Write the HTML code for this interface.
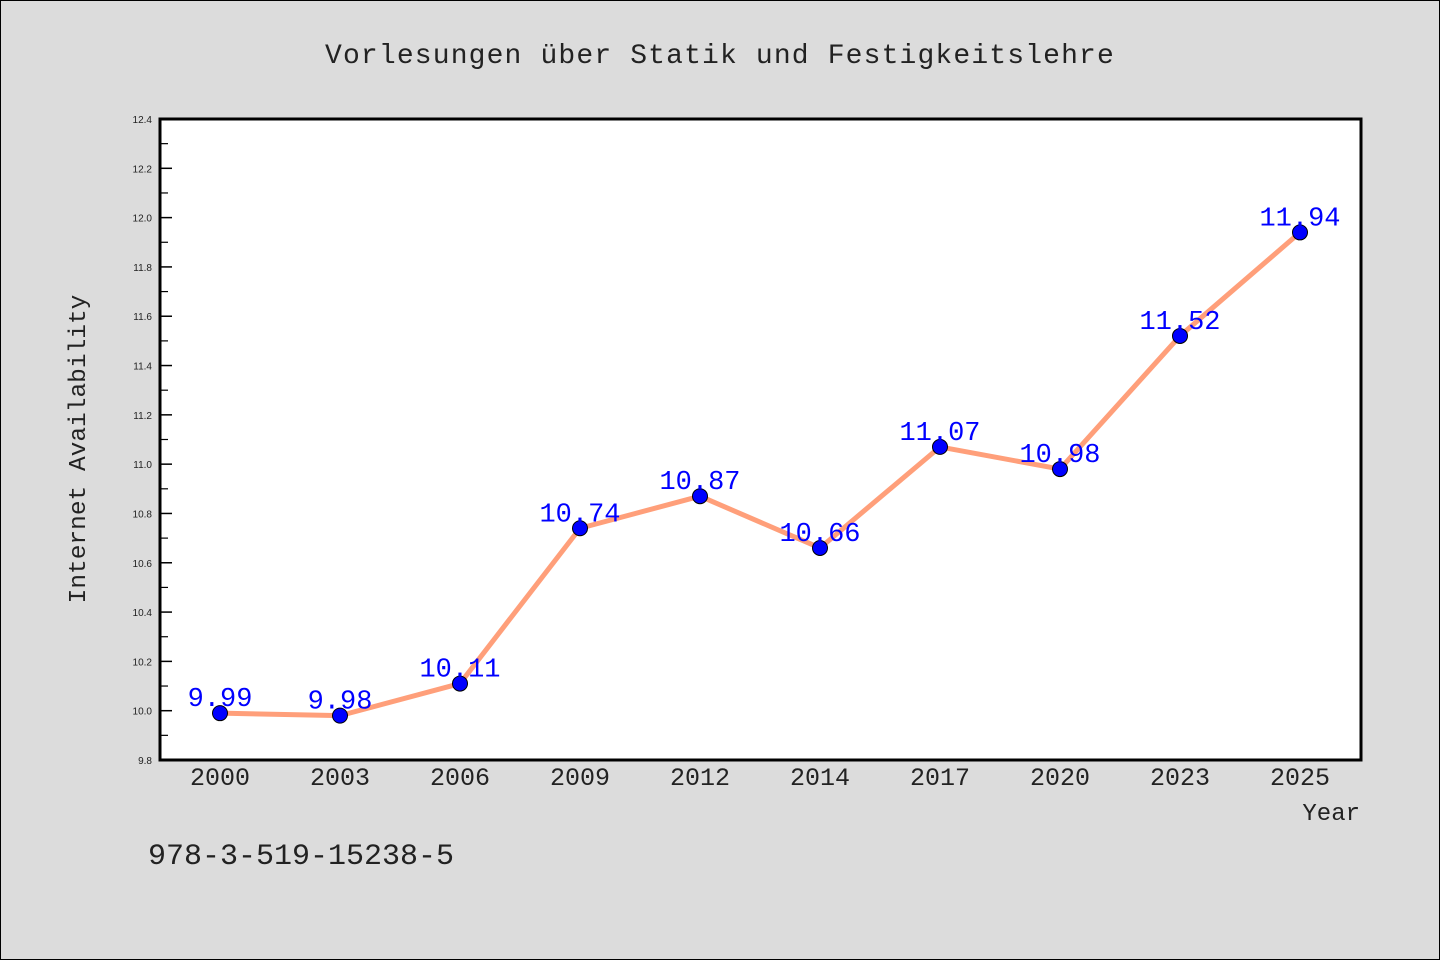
<!DOCTYPE html>
<html><head><meta charset="utf-8"><style>
body{margin:0;background:#dcdcdc;}
svg{display:block;font-family:"Liberation Mono","WenQuanYi Zen Hei",monospace;}
</style></head><body>
<svg id="chart" width="1440" height="960" viewBox="0 0 1440 960" xmlns="http://www.w3.org/2000/svg">
<rect x="0.5" y="0.5" width="1439" height="959" fill="#dcdcdc" stroke="#000" stroke-width="1"/>
<text x="720" y="63" text-anchor="middle" font-size="28" letter-spacing="1.15" fill="#222">Vorlesungen über Statik und Festigkeitslehre</text>
<rect x="160" y="119" width="1201" height="641" fill="#fff"/>
<g id="yticks"></g>
<g id="xticks"></g>
<g id="series"></g>
<rect x="160" y="119" width="1201" height="641" fill="none" stroke="#000" stroke-width="3"/>
<text transform="translate(85,449) rotate(-90)" text-anchor="middle" font-size="24.5" fill="#222">Internet Availability</text>
<text x="1360" y="820" text-anchor="end" font-size="24" fill="#222">Year</text>
<text x="148" y="864" font-size="30" fill="#222">978-3-519-15238-5</text>
</svg>
<script>
const categories = ["2000","2003","2006","2009","2012","2014","2017","2020","2023","2025"];
const values = [9.99, 9.98, 10.11, 10.74, 10.87, 10.66, 11.07, 10.98, 11.52, 11.94];
const yTickLabels = ["9.8","10.0","10.2","10.4","10.6","10.8","11.0","11.2","11.4","11.6","11.8","12.0","12.2","12.4"];
const yMin = 9.8, yMax = 12.4;
const L = 160, R = 1360, T = 119, B = 760;
const NS = "http://www.w3.org/2000/svg";
function yScale(v){ return B - (v - yMin) / (yMax - yMin) * (B - T); }
function xScale(i){ return L + (i + 0.5) * (R - L) / categories.length; }
function mk(tag, attrs, parent){ const e = document.createElementNS(NS, tag); for (const k in attrs) e.setAttribute(k, attrs[k]); parent.appendChild(e); return e; }
const yg = document.getElementById('yticks');
yTickLabels.forEach(function(lab){
  const v = parseFloat(lab), y = yScale(v);
  const t = mk('line', {x1:L, x2:L+12, y1:y, y2:y, stroke:'#000', 'stroke-width':1.5}, yg);
  
  
  const tx = mk('text', {x:L-8, y:y+4, 'text-anchor':'end', 'font-size':10, fill:'#222', 'font-family':'Liberation Sans, sans-serif'}, yg);
  tx.textContent = lab;
  
  
  if (v < yMax - 0.01) {
    const ym = yScale(v + 0.1);
    const m = mk('line', {x1:L, x2:L+8, y1:ym, y2:ym, stroke:'#000', 'stroke-width':1.2}, yg);
    
    
  }
});
const xg = document.getElementById('xticks');
categories.forEach(function(c, i){
  const tx = mk('text', {x:xScale(i), y:785, 'text-anchor':'middle', 'font-size':25, fill:'#222'}, xg);
  tx.textContent = c;
  
  
});
const sg = document.getElementById('series');
const pts = values.map(function(v, i){ return xScale(i) + ',' + yScale(v); }).join(' ');
const pl = mk('polyline', {points:pts, fill:'none', stroke:'#ff9f7a', 'stroke-width':5, 'stroke-linejoin':'round'}, sg);


values.forEach(function(v, i){
  const c = mk('circle', {cx:xScale(i), cy:yScale(v), r:7.5, fill:'#0000ff', stroke:'#000', 'stroke-width':1}, sg);
  
  
});
values.forEach(function(v, i){
  const t = mk('text', {x:xScale(i), y:yScale(v) - 7, 'text-anchor':'middle', 'font-size':27, fill:'#0000ff'}, sg);
  t.textContent = v.toFixed(2);
  
  
});
</script>
</body></html>
